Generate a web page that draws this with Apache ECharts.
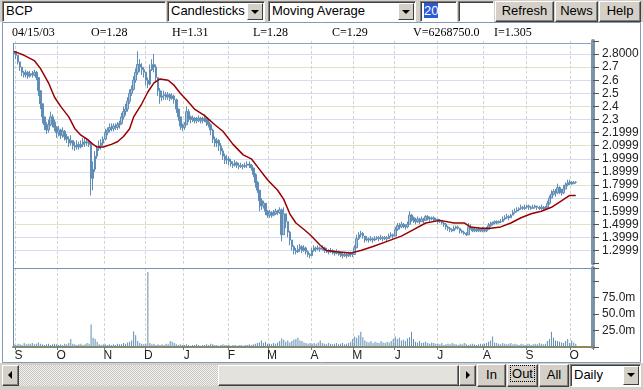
<!DOCTYPE html>
<html><head><meta charset="utf-8">
<script src="https://cdn.jsdelivr.net/npm/echarts@6/dist/echarts.min.js"></script>
<style>
html,body{margin:0;padding:0;width:643px;height:390px;overflow:hidden;background:#fff;font-family:Arial,"Liberation Sans",sans-serif;}
#chart{position:absolute;left:0;top:0;width:643px;height:390px;}
.strip{position:absolute;left:0;width:643px;background:#d4d0c8;z-index:1;}
.w{position:absolute;box-sizing:border-box;font-size:13px;line-height:17px;color:#000;z-index:2;white-space:nowrap;overflow:hidden;}
.field{background:#fff;border:1px solid;border-color:#808080 #fff #fff #808080;box-shadow:inset 1px 1px 0 #404040;padding-left:3px;}
.btn{background:#d4d0c8;border:1px solid;border-color:#fff #404040 #404040 #fff;box-shadow:inset -1px -1px 0 #808080;text-align:center;}
.arrow{position:absolute;right:1px;top:1px;bottom:1px;width:16px;background:#d4d0c8;border:1px solid;border-color:#fff #404040 #404040 #fff;box-sizing:border-box;}
.arrow:after{content:'';position:absolute;left:3px;top:6px;border-left:4px solid transparent;border-right:4px solid transparent;border-top:4px solid #000;}
.track{background:repeating-conic-gradient(#c8c4bc 0 25%,#f4f4f4 0 50%) 0 0/2px 2px;}
.la:after{content:'';position:absolute;left:5px;top:5px;border-top:4px solid transparent;border-bottom:4px solid transparent;border-right:4px solid #000;}
.ra:after{content:'';position:absolute;left:6px;top:5px;border-top:4px solid transparent;border-bottom:4px solid transparent;border-left:4px solid #000;}
</style></head><body>
<div id="chart"></div>
<div class="strip" style="top:0;height:22px;"></div>
<div class="w field" style="left:2px;top:1px;width:164px;height:21px;">BCP</div>
<div class="w field" style="left:167px;top:1px;width:98px;height:21px;">Candlesticks<div class="arrow"></div></div>
<div class="w field" style="left:268px;top:1px;width:148px;height:21px;">Moving Average<div class="arrow"></div></div>
<div class="w field" style="left:420px;top:1px;width:37px;height:21px;"><span style="background:#2a5bd7;color:#fff;">20</span></div>
<div class="w field" style="left:458px;top:1px;width:36px;height:21px;"></div>
<div class="w btn" style="left:495px;top:1px;width:59px;height:21px;">Refresh</div>
<div class="w btn" style="left:555px;top:1px;width:43px;height:21px;">News</div>
<div class="w btn" style="left:599px;top:1px;width:42px;height:21px;">Help</div>
<div class="strip" style="top:363px;height:27px;"></div>
<div class="w track" style="left:2px;top:365px;width:474px;height:21px;"></div>
<div class="w btn la" style="left:2px;top:365px;width:17px;height:21px;"></div>
<div class="w btn" style="left:218px;top:365px;width:241px;height:21px;background:#e4e2dc;"></div>
<div class="w btn ra" style="left:459px;top:365px;width:17px;height:21px;"></div>
<div class="w btn" style="left:477px;top:364px;width:29px;height:23px;line-height:20px;">In</div>
<div class="w btn" style="left:507px;top:364px;width:31px;height:23px;line-height:18px;"><span style="border:1px dotted #000;padding:0 1px;">Out</span></div>
<div class="w btn" style="left:539px;top:364px;width:30px;height:23px;line-height:20px;">All</div>
<div class="w field" style="left:570px;top:364px;width:71px;height:23px;line-height:19px;">Daily<div class="arrow"></div></div>
<script>
// ---- data ----
const monthLetters = ['A','S','O','N','D','J','F','M','A','M','J','J','A','S','O'];
const monthDays    = [1, 21, 23, 20, 19, 22, 20, 21, 21, 20, 21, 23, 21, 22, 11];
const priceTicks      = [2.8, 2.7, 2.6, 2.5, 2.4, 2.3, 2.2, 2.1, 2.0, 1.9, 1.8, 1.7, 1.6, 1.5, 1.4, 1.3];
const priceTickLabels = ['2.8000','2.7','2.6','2.5','2.4','2.3','2.1999','2.0999','1.9999','1.8999','1.7999','1.6999','1.5999','1.4999','1.3999','1.2999'];
const volumeTicks      = [25, 50, 75];
const volumeTickLabels = ['25.0m','50.0m','75.0m'];
const infoTexts = ['04/15/03','O=1.28','H=1.31','L=1.28','C=1.29','V=6268750.0','I=1.305'];
// [open, close, low, high]
const ohlc = [
[2.80,2.82,2.79,2.83],[2.82,2.79,2.76,2.82],[2.79,2.74,2.72,2.79],[2.74,2.70,2.67,2.74],[2.70,2.66,2.63,2.70],
[2.66,2.64,2.62,2.67],[2.64,2.66,2.62,2.68],[2.66,2.63,2.61,2.67],[2.63,2.65,2.62,2.67],[2.65,2.64,2.62,2.67],
[2.64,2.66,2.63,2.68],[2.66,2.62,2.60,2.67],[2.62,2.52,2.48,2.62],[2.52,2.42,2.38,2.52],[2.42,2.32,2.27,2.42],
[2.32,2.26,2.22,2.32],[2.26,2.22,2.19,2.28],[2.22,2.26,2.20,2.30],[2.26,2.32,2.25,2.36],[2.32,2.28,2.24,2.34],
[2.28,2.24,2.21,2.30],[2.24,2.20,2.16,2.25],[2.20,2.22,2.17,2.25],[2.22,2.18,2.15,2.23],[2.18,2.21,2.16,2.24],
[2.21,2.17,2.14,2.22],[2.17,2.15,2.12,2.19],[2.15,2.12,2.09,2.17],[2.12,2.14,2.10,2.18],[2.14,2.10,2.07,2.14],
[2.10,2.09,2.06,2.13],[2.09,2.11,2.07,2.14],[2.11,2.09,2.07,2.13],[2.09,2.11,2.08,2.14],[2.11,2.13,2.09,2.16],
[2.13,2.12,2.09,2.16],[2.12,2.13,2.10,2.16],[2.13,2.11,2.09,2.15],[2.11,1.85,1.72,2.12],[1.85,1.92,1.76,1.98],
[1.92,2.02,1.90,2.06],[2.02,2.08,2.00,2.10],[2.08,2.10,2.06,2.14],[2.10,2.12,2.07,2.15],[2.12,2.15,2.10,2.17],
[2.15,2.20,2.14,2.23],[2.20,2.22,2.18,2.24],[2.22,2.24,2.20,2.27],[2.24,2.23,2.21,2.27],[2.23,2.25,2.21,2.27],
[2.25,2.24,2.22,2.27],[2.24,2.26,2.22,2.28],[2.26,2.27,2.23,2.29],[2.27,2.32,2.26,2.35],[2.32,2.36,2.30,2.40],
[2.36,2.38,2.33,2.42],[2.38,2.44,2.36,2.47],[2.44,2.50,2.42,2.53],[2.50,2.53,2.48,2.56],[2.53,2.60,2.52,2.63],
[2.60,2.66,2.58,2.69],[2.66,2.72,2.64,2.82],[2.72,2.70,2.66,2.76],[2.70,2.68,2.64,2.73],[2.68,2.66,2.62,2.70],
[2.66,2.60,2.56,2.66],[2.60,2.57,2.54,2.62],[2.57,2.68,2.56,2.72],[2.68,2.72,2.67,2.76],[2.72,2.70,2.66,2.80],
[2.70,2.62,2.58,2.72],[2.62,2.52,2.48,2.62],[2.52,2.47,2.42,2.54],[2.47,2.48,2.44,2.52],[2.48,2.49,2.45,2.52],
[2.49,2.47,2.45,2.51],[2.47,2.49,2.45,2.51],[2.49,2.46,2.44,2.50],[2.46,2.48,2.45,2.50],[2.48,2.45,2.42,2.49],
[2.45,2.38,2.35,2.46],[2.38,2.32,2.29,2.38],[2.32,2.25,2.22,2.32],[2.25,2.24,2.21,2.27],[2.24,2.26,2.22,2.28],
[2.26,2.36,2.26,2.40],[2.36,2.32,2.28,2.38],[2.32,2.30,2.27,2.33],[2.30,2.31,2.28,2.33],[2.31,2.29,2.27,2.32],
[2.29,2.30,2.27,2.32],[2.30,2.31,2.28,2.33],[2.31,2.29,2.27,2.32],[2.29,2.30,2.27,2.32],[2.30,2.31,2.28,2.34],
[2.31,2.28,2.25,2.32],[2.28,2.26,2.24,2.30],[2.26,2.22,2.18,2.27],[2.22,2.15,2.12,2.23],[2.15,2.12,2.09,2.17],
[2.12,2.14,2.09,2.16],[2.14,2.10,2.06,2.15],[2.10,2.06,2.03,2.12],[2.06,2.02,1.99,2.08],[2.02,1.99,1.96,2.04],
[1.99,2.00,1.96,2.03],[2.00,1.98,1.95,2.02],[1.98,1.96,1.94,2.00],[1.96,1.95,1.93,1.98],[1.95,1.97,1.94,1.99],
[1.97,1.95,1.93,1.98],[1.95,1.94,1.92,1.97],[1.94,1.95,1.93,1.97],[1.95,1.94,1.92,1.96],[1.94,1.95,1.93,1.97],
[1.95,1.96,1.93,1.98],[1.96,1.95,1.93,1.98],[1.95,1.93,1.91,1.96],[1.93,1.88,1.86,1.93],[1.88,1.82,1.78,1.89],
[1.82,1.76,1.74,1.83],[1.76,1.68,1.60,1.76],[1.68,1.64,1.61,1.70],[1.64,1.66,1.62,1.68],[1.66,1.60,1.57,1.66],
[1.60,1.57,1.55,1.61],[1.57,1.59,1.55,1.61],[1.59,1.57,1.55,1.60],[1.57,1.58,1.56,1.61],[1.58,1.60,1.57,1.62],
[1.60,1.59,1.57,1.61],[1.59,1.61,1.58,1.63],[1.61,1.42,1.37,1.62],[1.42,1.58,1.42,1.63],[1.58,1.52,1.47,1.58],
[1.52,1.44,1.40,1.52],[1.44,1.38,1.34,1.45],[1.38,1.33,1.30,1.38],[1.33,1.30,1.27,1.34],[1.30,1.29,1.27,1.32],
[1.29,1.31,1.28,1.34],[1.31,1.33,1.29,1.35],[1.33,1.30,1.28,1.34],[1.30,1.32,1.29,1.34],[1.32,1.29,1.27,1.33],
[1.29,1.27,1.25,1.30],[1.27,1.26,1.24,1.28],[1.26,1.30,1.26,1.32],[1.30,1.32,1.29,1.34],[1.32,1.31,1.29,1.33],
[1.31,1.32,1.30,1.34],[1.32,1.31,1.29,1.33],[1.31,1.32,1.30,1.34],[1.32,1.30,1.28,1.33],[1.30,1.30,1.28,1.32],
[1.30,1.29,1.27,1.31],[1.29,1.30,1.28,1.32],[1.30,1.29,1.27,1.31],[1.29,1.28,1.26,1.30],[1.28,1.29,1.27,1.31],
[1.29,1.28,1.26,1.30],[1.28,1.27,1.25,1.29],[1.27,1.26,1.24,1.28],[1.26,1.27,1.25,1.29],[1.27,1.26,1.24,1.28],
[1.26,1.27,1.25,1.29],[1.27,1.28,1.25,1.29],[1.28,1.27,1.25,1.29],[1.27,1.32,1.27,1.34],[1.32,1.39,1.32,1.42],
[1.39,1.42,1.38,1.44],[1.42,1.43,1.40,1.45],[1.43,1.41,1.39,1.44],[1.41,1.38,1.36,1.41],[1.38,1.39,1.37,1.41],
[1.39,1.38,1.36,1.40],[1.38,1.39,1.37,1.41],[1.39,1.38,1.36,1.40],[1.38,1.39,1.37,1.41],[1.39,1.40,1.38,1.41],
[1.40,1.39,1.37,1.41],[1.39,1.40,1.38,1.42],[1.40,1.39,1.37,1.41],[1.39,1.40,1.38,1.41],[1.40,1.39,1.37,1.41],
[1.39,1.41,1.39,1.43],[1.41,1.42,1.40,1.44],[1.42,1.41,1.39,1.43],[1.41,1.46,1.41,1.48],[1.46,1.49,1.45,1.51],
[1.49,1.48,1.46,1.51],[1.48,1.50,1.47,1.52],[1.50,1.49,1.47,1.51],[1.49,1.48,1.46,1.50],[1.48,1.50,1.47,1.52],
[1.50,1.57,1.50,1.60],[1.57,1.55,1.52,1.58],[1.55,1.53,1.51,1.56],[1.53,1.52,1.50,1.55],[1.52,1.54,1.51,1.56],
[1.54,1.52,1.50,1.55],[1.52,1.54,1.52,1.56],[1.54,1.53,1.51,1.55],[1.53,1.56,1.53,1.57],[1.56,1.55,1.53,1.57],
[1.55,1.54,1.52,1.56],[1.54,1.55,1.53,1.56],[1.55,1.53,1.52,1.56],[1.53,1.54,1.52,1.55],[1.54,1.52,1.50,1.54],
[1.52,1.53,1.51,1.54],[1.53,1.51,1.50,1.53],[1.51,1.50,1.48,1.52],[1.50,1.48,1.46,1.51],[1.48,1.47,1.45,1.49],
[1.47,1.46,1.44,1.48],[1.46,1.45,1.44,1.47],[1.45,1.47,1.45,1.49],[1.47,1.48,1.46,1.49],[1.48,1.47,1.46,1.49],
[1.47,1.45,1.43,1.47],[1.45,1.44,1.43,1.46],[1.44,1.43,1.42,1.45],[1.43,1.42,1.41,1.44],[1.42,1.48,1.42,1.51],
[1.48,1.47,1.46,1.50],[1.47,1.45,1.44,1.48],[1.45,1.46,1.44,1.48],[1.46,1.45,1.44,1.47],[1.45,1.46,1.44,1.48],
[1.46,1.45,1.44,1.47],[1.45,1.46,1.44,1.48],[1.46,1.45,1.44,1.47],[1.45,1.46,1.44,1.48],[1.46,1.49,1.46,1.51],
[1.49,1.50,1.48,1.52],[1.50,1.51,1.49,1.52],[1.51,1.52,1.50,1.53],[1.52,1.51,1.50,1.53],[1.51,1.52,1.51,1.53],
[1.52,1.52,1.51,1.54],[1.52,1.54,1.52,1.56],[1.54,1.55,1.53,1.57],[1.55,1.56,1.54,1.58],[1.56,1.55,1.53,1.57],
[1.55,1.57,1.55,1.58],[1.57,1.59,1.57,1.61],[1.59,1.60,1.58,1.62],[1.60,1.61,1.59,1.63],[1.61,1.62,1.60,1.63],
[1.62,1.63,1.61,1.65],[1.63,1.62,1.61,1.64],[1.62,1.63,1.61,1.65],[1.63,1.64,1.62,1.65],[1.64,1.63,1.61,1.65],
[1.63,1.62,1.61,1.64],[1.62,1.63,1.62,1.65],[1.63,1.64,1.62,1.65],[1.64,1.63,1.61,1.64],[1.63,1.62,1.61,1.64],
[1.62,1.63,1.61,1.65],[1.63,1.62,1.61,1.64],[1.62,1.63,1.61,1.64],[1.63,1.66,1.62,1.68],[1.66,1.70,1.65,1.72],
[1.70,1.73,1.70,1.76],[1.73,1.75,1.72,1.77],[1.75,1.74,1.71,1.77],[1.74,1.78,1.73,1.81],[1.78,1.76,1.73,1.79],
[1.76,1.74,1.72,1.77],[1.74,1.77,1.73,1.80],[1.77,1.80,1.77,1.82],[1.80,1.81,1.79,1.84],[1.81,1.82,1.80,1.84],
[1.82,1.81,1.80,1.83],[1.81,1.82,1.81,1.83],[1.82,1.82,1.81,1.83]
];
// 20-day moving average, read as [day index, value]
const ma20 = [[0,2.82],[5,2.79],[10,2.75],[13,2.69],[17,2.58],[20,2.47],[23,2.40],[27,2.32],[30,2.23],[33,2.18],
[36,2.15],[39,2.11],[41,2.09],[44,2.09],[48,2.11],[51,2.13],[54,2.17],[57,2.23],[59,2.32],[63,2.42],[66,2.51],
[69,2.58],[72,2.61],[76,2.60],[79,2.56],[82,2.50],[85,2.45],[89,2.38],[94,2.33],[99,2.26],[103,2.21],[108,2.11],
[113,2.03],[117,2.00],[120,1.94],[125,1.84],[130,1.76],[133,1.69],[136,1.58],[139,1.51],[143,1.46],[146,1.42],
[151,1.34],[154,1.30],[159,1.29],[166,1.28],[171,1.30],[177,1.33],[184,1.37],[191,1.41],[197,1.46],[203,1.51],
[210,1.53],[217,1.51],[222,1.51],[225,1.48],[230,1.47],[235,1.47],[240,1.48],[245,1.51],[250,1.55],[255,1.58],
[260,1.60],[265,1.63],[269,1.67],[274,1.72],[277,1.72]];
// volume in millions
const volume = [
4,3,5,4,3,6,4,5,5,6,4,5,7,5,4,3,4,5,3,4,5,4,
3,4,3,5,4,6,12,5,4,3,4,5,3,4,6,5,34,14,12,8,4,3,4,
4,3,4,3,4,3,5,4,4,6,5,7,8,10,24,18,9,6,5,4,
5,114,6,4,5,3,4,3,4,3,5,4,9,8,6,4,3,4,3,
3,4,3,2,3,3,4,3,2,3,3,4,3,5,4,3,3,2,3,4,3,3,
3,2,3,3,2,3,3,2,3,3,4,3,4,5,6,7,10,6,8,5,
5,4,6,5,7,9,13,11,8,10,7,9,11,12,14,10,9,7,6,5,6,
5,6,5,7,10,6,5,4,6,5,4,5,6,4,5,6,4,5,6,8,12,
16,14,18,23,15,10,8,7,9,6,8,7,6,9,7,6,8,7,9,12,
16,12,14,10,11,9,13,15,23,12,8,7,9,6,7,8,6,5,7,6,5,
5,4,6,3,4,5,4,6,5,4,3,5,4,6,5,3,4,5,4,3,4,5,4,
5,6,8,10,16,7,6,5,4,6,5,4,5,6,4,5,4,3,5,4,3,
4,5,3,4,5,4,6,5,4,5,9,12,23,14,10,9,8,7,6,9,12,6,
10,7,5
];

// ---- categories built from month table ----
const cats = [], monthStart = {};
monthLetters.forEach((m, mi) => {
  for (let k = 0; k < monthDays[mi]; k++) {
    if (k === 0) monthStart[cats.length] = true;
    cats.push(mi + '-' + k);
  }
});
const isStart = (i) => i > 0 && !!monthStart[i];

const chart = echarts.init(document.getElementById('chart'), null, {renderer: 'canvas'});
const gridLeft = 13, gridW = 580;
const steel = '#5f8db5';
const vLine = {show: true, interval: (i) => isStart(i), lineStyle: {color: '#d4d4ca', type: [3, 2], width: 1}};

const infoX = [12, 91, 172, 253, 332, 413, 494];
const graphics = infoTexts.map((t, i) => ({
  type: 'text', x: infoX[i], y: 33, z: 50,
  style: {text: t, font: '12px "Liberation Serif", "Times New Roman", serif', fill: '#000', verticalAlign: 'middle'}
}));
graphics.push(
  {type: 'rect', z: 40, shape: {x: 2.5, y: 22.5, width: 638, height: 340}, style: {fill: null, stroke: '#7f9cb6', lineWidth: 1}},
  {type: 'line', z: 60, shape: {x1: 13, y1: 43.5, x2: 593, y2: 43.5}, style: {stroke: '#8aa6bf', lineWidth: 1}},
  {type: 'line', z: 60, shape: {x1: 13.5, y1: 43, x2: 13.5, y2: 347}, style: {stroke: '#5f8db5', lineWidth: 1}},
  {type: 'line', z: 60, shape: {x1: 13, y1: 268.5, x2: 593, y2: 268.5}, style: {stroke: '#6f93b3', lineWidth: 1}}
);

chart.setOption({
  animation: false,
  backgroundColor: '#fff',
  textStyle: {fontFamily: 'Arial, "Liberation Sans", sans-serif'},
  grid: [
    {left: gridLeft, top: 40.9, width: gridW, height: 222.7},
    {left: gridLeft, top: 268, width: gridW, height: 79}
  ],
  xAxis: [
    {type: 'category', gridIndex: 0, data: cats, boundaryGap: true,
     axisLine: {show: false}, axisTick: {show: false}, axisLabel: {show: false}, splitLine: vLine},
    {type: 'category', gridIndex: 1, data: cats, boundaryGap: true,
     axisLine: {show: true, lineStyle: {color: '#8c8a5c', width: 2}},
     axisTick: {show: true, interval: (i) => isStart(i), length: 3, lineStyle: {color: '#777'}},
     axisLabel: {show: true, interval: (i) => isStart(i), margin: 3, fontSize: 12, color: '#222', padding: [0, 0, 0, 5],
       formatter: (v) => monthLetters[+v.split('-')[0]]},
     splitLine: vLine}
  ],
  yAxis: [
    {type: 'value', gridIndex: 0, position: 'right', min: 1.2, max: 2.9, interval: 0.1,
     axisLine: {show: true, lineStyle: {color: '#7d93a5', width: 4}},
     axisTick: {show: true, length: 6, lineStyle: {color: '#555'}},
     axisLabel: {margin: 9, fontSize: 12, color: '#222',
       formatter: (v) => { const i = priceTicks.findIndex(p => Math.abs(p - v) < 1e-6); return i >= 0 ? priceTickLabels[i] : ''; }},
     splitLine: {show: true, showMinLine: false, showMaxLine: false, lineStyle: {color: ['#dadaf4', '#dadaf4', '#e4e2c4'], width: 1}}},
    {type: 'value', gridIndex: 1, position: 'right', min: 0, max: 120, interval: 25,
     axisLine: {show: true, lineStyle: {color: '#7d93a5', width: 4}},
     axisTick: {show: true, length: 6, lineStyle: {color: '#555'}},
     axisLabel: {margin: 9, fontSize: 12, color: '#222',
       formatter: (v) => { const i = volumeTicks.indexOf(v); return i >= 0 ? volumeTickLabels[i] : ''; }},
     splitLine: {show: false}}
  ],
  graphic: graphics,
  series: [
    {type: 'candlestick', xAxisIndex: 0, yAxisIndex: 0, data: ohlc, barWidth: 2,
     itemStyle: {color: '#a9c4dc', color0: steel, borderColor: steel, borderColor0: steel, borderWidth: 1}},
    {type: 'line', xAxisIndex: 0, yAxisIndex: 0, data: ma20, showSymbol: false, symbol: 'none',
     lineStyle: {color: '#990000', width: 1.5}, z: 5},
    {type: 'bar', xAxisIndex: 1, yAxisIndex: 1, data: volume, barWidth: 1, itemStyle: {color: steel}}
  ]
});
</script>
</body></html>
